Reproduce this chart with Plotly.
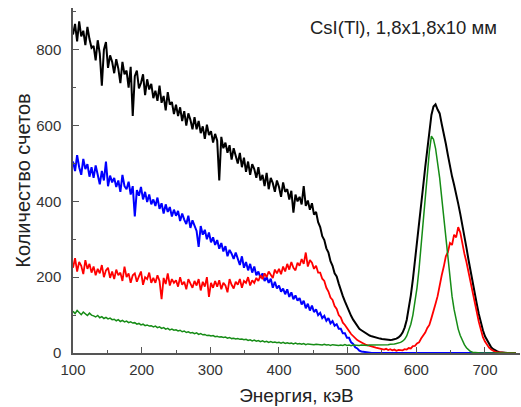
import plotly.graph_objects as go

# Energy channels, keV (3 keV bins)
energy = list(range(100, 746, 3))

black = [
    840, 868, 822, 875, 835, 850, 812, 860, 828, 805,
    810, 772, 825, 790, 705, 800, 820, 752, 785, 768,
    738, 775, 750, 712, 768, 735, 745, 700, 755, 625,
    730, 745, 698, 712, 735, 680, 722, 695, 710, 672,
    692, 665, 705, 660, 678, 640, 688, 655, 662, 630,
    655, 625, 648, 612, 638, 600, 632, 615, 590, 622,
    590, 612, 580, 598, 565, 602, 575, 585, 555, 578,
    560, 455, 570, 540, 555, 528, 548, 510, 540, 520,
    500, 528, 490, 515, 478, 505, 470, 498, 485, 462,
    490, 455, 470, 440, 475, 432, 462, 448, 425, 455,
    438, 412, 450, 425, 432, 405, 428, 370, 418, 400,
    412, 392, 440, 388, 402, 378, 395, 365, 372, 345,
    332, 308, 298, 276, 265, 242, 230, 210, 202, 183,
    165, 150, 136, 122, 110, 98, 88, 79, 71, 64,
    60, 56, 52, 49, 46, 44, 42, 40, 39, 38,
    37, 36, 35, 35, 34, 35, 36, 38, 41, 46,
    54, 67, 87, 115, 152, 194, 240, 290, 340, 390,
    440, 490, 540, 588, 628, 650, 656, 642, 632, 604,
    580, 552, 522, 490, 466, 444, 414, 394, 367, 340,
    310, 278, 246, 215, 187, 160, 130, 103, 80, 60,
    44, 33, 23, 15, 10, 6, 4, 2, 1, 1,
    0, 0, 0, 0, 0, 0,
]

blue = [
    505, 480, 522, 490, 470, 512, 485, 498, 465, 490,
    462, 495, 470, 445, 480, 455, 505, 440, 468, 450,
    462, 438, 455, 425, 470, 440, 432, 452, 418, 440,
    360, 430, 415, 438, 405, 425, 398, 418, 392, 405,
    388, 410, 380, 395, 368, 392, 372, 385, 360, 378,
    362, 375, 348, 368, 352, 340, 362, 330, 350, 338,
    322, 280, 335, 312, 325, 300, 318, 292, 305, 285,
    298, 275, 290, 268, 282, 255, 272, 262, 248, 265,
    245, 232, 255, 225, 240, 218, 235, 212, 228, 205,
    215, 198, 210, 190, 200, 185, 196, 172, 188, 170,
    178, 162, 170, 155, 168, 148, 160, 142, 152, 138,
    145, 128, 138, 118, 130, 112, 125, 108, 115, 100,
    106, 92, 98, 85, 92, 78, 84, 72, 76, 64,
    64, 52, 52, 40, 40, 28, 24, 15, 12, 6,
    4, 3, 1, 1, 0, 0, 0, 0, 0, 0,
    0, 0, 0, 0, 0, 0, 0, 0, 0, 0,
    0, 0, 0, 0, 0, 0, 0, 0, 0, 0,
    0, 0, 0, 0, 0, 0, 0, 0, 0, 0,
    0, 0, 0, 0, 0, 0, 0, 0, 0, 0,
    0, 0, 0, 0, 0, 0, 0, 0, 0, 0,
    0, 0, 0, 0, 0, 0, 0, 0, 0, 0,
    0, 0, 0, 0, 0, 0,
]

red = [
    225, 250, 215, 240, 230, 208, 245, 222, 235, 212,
    228, 205, 222, 210, 232, 200, 218, 225, 198, 215,
    195, 220, 205, 212, 190, 228, 200, 210, 185, 205,
    210, 188, 202, 215, 180, 200, 195, 212, 185, 198,
    185, 205, 190, 142, 198, 182, 210, 178, 195, 185,
    192, 175, 200, 180, 188, 168, 195, 182, 172, 190,
    178, 195, 165, 188, 175, 200, 148, 185, 172, 190,
    175, 192, 168, 185, 178, 160, 195, 180, 170, 188,
    180, 195, 172, 190, 185, 200, 178, 192, 185, 198,
    190, 205, 195, 210, 200, 215, 205, 198, 220, 210,
    222, 208, 228, 215, 235, 220, 240, 225, 218, 238,
    230, 248, 235, 265, 228, 245, 238, 222, 230, 212,
    212, 196, 190, 172, 162, 146, 140, 124, 116, 100,
    94, 80, 74, 64, 58, 50, 44, 40, 34, 31,
    27, 25, 22, 20, 19, 17, 15, 14, 13, 12,
    12, 9, 11, 8, 10, 7, 9, 6, 8, 7,
    7, 10, 9, 13, 12, 18, 19, 25, 28, 38,
    46, 54, 66, 74, 92, 108, 130, 150, 182, 205,
    228, 255, 266, 290, 285, 312, 305, 332, 318, 288,
    262, 240, 212, 190, 160, 131, 108, 82, 62, 42,
    30, 20, 14, 9, 5, 3, 2, 1, 0, 0,
    0, 0, 0, 0, 0, 0,
]

green = [
    110, 104, 112, 106, 101, 108, 103, 99, 105, 100,
    98, 95, 99, 93, 96, 91, 94, 90, 92, 88,
    89, 85, 88, 83, 86, 82, 84, 80, 82, 79,
    80, 76, 78, 74, 76, 72, 74, 71, 72, 69,
    71, 67, 69, 65, 67, 63, 65, 61, 63, 60,
    61, 58, 60, 56, 58, 54, 56, 53, 54, 51,
    53, 49, 51, 48, 49, 46, 47, 45, 46, 43,
    44, 42, 43, 41, 42, 39, 41, 38, 39, 37,
    38, 36, 37, 35, 36, 33, 35, 32, 34, 31,
    33, 30, 32, 29, 31, 28, 30, 28, 29, 27,
    28, 26, 28, 25, 27, 25, 26, 24, 26, 24,
    25, 23, 25, 22, 24, 23, 24, 22, 23, 22,
    23, 21, 23, 21, 22, 20, 22, 21, 22, 20,
    21, 20, 22, 20, 21, 19, 21, 20, 21, 20,
    21, 20, 21, 20, 21, 21, 22, 21, 22, 21,
    22, 21, 22, 22, 23, 23, 24, 25, 26, 28,
    31, 36, 45, 58, 76, 100, 132, 172, 222, 285,
    350, 415, 478, 532, 572, 564, 540, 505, 462, 410,
    355, 298, 242, 192, 150, 115, 86, 63, 46, 33,
    22, 14, 8, 4, 2, 1, 0, 0, 0, 0,
    0, 0, 0, 0, 0, 0, 0, 0, 0, 0,
    0, 0, 0, 0, 0, 0,
]

series = [
    ("black", black, "#000000", 2.0),
    ("blue", blue, "#0000ff", 2.0),
    ("red", red, "#ff0000", 1.8),
    ("green", green, "#168c16", 1.5),
]

title_text = "CsI(Tl), 1,8x1,8x10 мм"
x_title = "Энергия, кэВ"
y_title = "Количество счетов"

fig = go.Figure()
for name, vals, col, w in series:
    fig.add_trace(go.Scatter(x=energy, y=vals, mode="lines", name=name,
                             line=dict(color=col, width=w)))

axis_col = "#555555"
font_fam = "Liberation Sans, Arial, sans-serif"

fig.update_layout(
    width=521, height=407,
    margin=dict(l=73, r=1, t=8, b=54),
    plot_bgcolor="white", paper_bgcolor="white",
    showlegend=False,
    font=dict(family=font_fam, color="#333333"),
    annotations=[dict(text=title_text, xref="paper", yref="paper",
                      x=0.74, y=0.943, xanchor="center", yanchor="middle",
                      showarrow=False, font=dict(size=18.5, color="#222222"))],
)

fig.update_xaxes(
    range=[100, 751], tick0=100, dtick=100,
    ticks="inside", ticklen=6, tickwidth=1.3, tickcolor=axis_col,
    showline=True, linecolor=axis_col, linewidth=1.5,
    showgrid=False, zeroline=False,
    minor=dict(tick0=100, dtick=50, ticks="inside", ticklen=3, tickcolor=axis_col, showgrid=False),
    tickfont=dict(size=15, color="#333333"),
    ticklabelstandoff=2,
    title=dict(text=x_title, font=dict(size=19, color="#222222"), standoff=12),
)
fig.update_yaxes(
    range=[0, 910], tick0=0, dtick=200,
    ticks="inside", ticklen=6, tickwidth=1.3, tickcolor=axis_col,
    showline=True, linecolor=axis_col, linewidth=1.5,
    showgrid=False, zeroline=False,
    minor=dict(tick0=0, dtick=100, ticks="inside", ticklen=3, tickcolor=axis_col, showgrid=False),
    tickfont=dict(size=15, color="#333333"),
    ticklabelstandoff=7,
    title=dict(text=y_title, font=dict(size=20, color="#222222"), standoff=0),
)

fig.write_html("out.html")
